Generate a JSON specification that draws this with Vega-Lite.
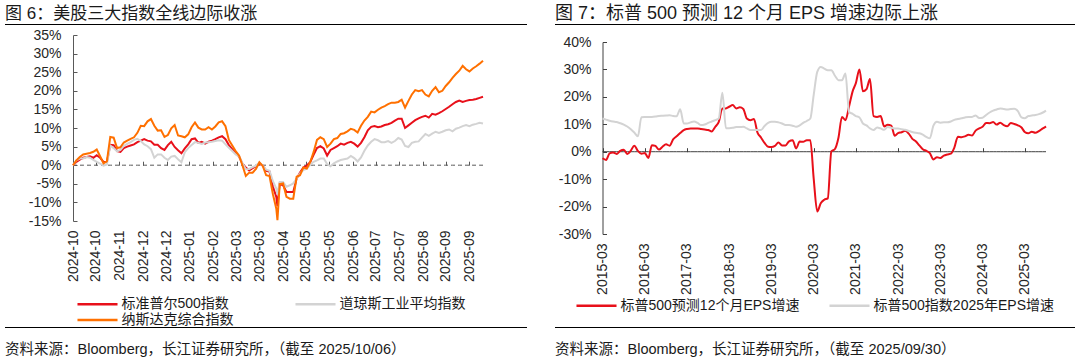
{
  "$schema": "https://vega.github.io/schema/vega-lite/v6.json",
  "padding": {"left": 5, "top": 5, "right": 5, "bottom": 0},
  "background": "white",
  "config": {
    "font": "Liberation Sans, Noto Sans CJK SC",
    "view": {"stroke": null},
    "title": {"font": "Liberation Sans, Noto Sans CJK SC", "fontWeight": "normal", "color": "#1a1a1a"},
    "axis": {"labelFont": "Liberation Sans, Noto Sans CJK SC", "labelColor": "#262626", "grid": false, "labelFontSize": 14},
    "legend": {"labelFont": "Liberation Sans, Noto Sans CJK SC", "labelColor": "#1a1a1a", "labelFontSize": 14, "labelLimit": 0}
  },
  "resolve": {"scale": {"color": "independent"}, "legend": {"color": "independent"}},
  "datasets": {
    "idx": [
      {"d":"2024-10-08","标准普尔500指数":0,"道琼斯工业平均指数":0,"纳斯达克综合指数":0},
      {"d":"2024-10-11","标准普尔500指数":0.9,"道琼斯工业平均指数":1.3,"纳斯达克综合指数":1.3},
      {"d":"2024-10-14","标准普尔500指数":1.5,"道琼斯工业平均指数":1.8,"纳斯达克综合指数":2.2},
      {"d":"2024-10-17","标准普尔500指数":2.0,"道琼斯工业平均指数":1.8,"纳斯达克综合指数":2.9},
      {"d":"2024-10-20","标准普尔500指数":2.2,"道琼斯工业平均指数":2.2,"纳斯达克综合指数":3.1},
      {"d":"2024-10-23","标准普尔500指数":2.4,"道琼斯工业平均指数":2.0,"纳斯达克综合指数":3.3},
      {"d":"2024-10-26","标准普尔500指数":2.0,"道琼斯工业平均指数":1.4,"纳斯达克综合指数":3.6},
      {"d":"2024-10-29","标准普尔500指数":2.7,"道琼斯工业平均指数":0.9,"纳斯达克综合指数":4.2},
      {"d":"2024-11-01","标准普尔500指数":2.0,"道琼斯工业平均指数":0.4,"纳斯达克综合指数":2.4},
      {"d":"2024-11-04","标准普尔500指数":0.9,"道琼斯工业平均指数":-0.1,"纳斯达克综合指数":0.5},
      {"d":"2024-11-07","标准普尔500指数":0.8,"道琼斯工业平均指数":0.2,"纳斯达克综合指数":1.0},
      {"d":"2024-11-10","标准普尔500指数":5.5,"道琼斯工业平均指数":5.3,"纳斯达克综合指数":7.6},
      {"d":"2024-11-13","标准普尔500指数":5.4,"道琼斯工业平均指数":4.6,"纳斯达克综合指数":7.4},
      {"d":"2024-11-16","标准普尔500指数":3.8,"道琼斯工业平均指数":3.7,"纳斯达克综合指数":4.6},
      {"d":"2024-11-19","标准普尔500指数":3.6,"道琼斯工业平均指数":4.1,"纳斯达克综合指数":4.8},
      {"d":"2024-11-22","标准普尔500指数":4.6,"道琼斯工业平均指数":5.2,"纳斯达克综合指数":6.1},
      {"d":"2024-11-25","标准普尔500指数":5.0,"道琼斯工业平均指数":5.7,"纳斯达克综合指数":6.6},
      {"d":"2024-11-28","标准普尔500指数":5.3,"道琼斯工业平均指数":6.2,"纳斯达克综合指数":7.1},
      {"d":"2024-12-01","标准普尔500指数":5.6,"道琼斯工业平均指数":6.8,"纳斯达克综合指数":7.5},
      {"d":"2024-12-04","标准普尔500指数":6.2,"道琼斯工业平均指数":7.1,"纳斯达克综合指数":8.7},
      {"d":"2024-12-07","标准普尔500指数":6.6,"道琼斯工业平均指数":6.5,"纳斯达克综合指数":10.6},
      {"d":"2024-12-10","标准普尔500指数":7.0,"道琼斯工业平均指数":5.6,"纳斯达克综合指数":10.5},
      {"d":"2024-12-13","标准普尔500指数":6.6,"道琼斯工业平均指数":5.1,"纳斯达克综合指数":11.8},
      {"d":"2024-12-16","标准普尔500指数":6.4,"道琼斯工业平均指数":4.3,"纳斯达克综合指数":12.4},
      {"d":"2024-12-19","标准普尔500指数":5.5,"道琼斯工业平均指数":2.0,"纳斯达克综合指数":10.6},
      {"d":"2024-12-22","标准普尔500指数":5.5,"道琼斯工业平均指数":2.9,"纳斯达克综合指数":9.3},
      {"d":"2024-12-25","标准普尔500指数":4.6,"道琼斯工业平均指数":2.9,"纳斯达克综合指数":9.4},
      {"d":"2024-12-28","标准普尔500指数":4.1,"道琼斯工业平均指数":2.0,"纳斯达克综合指数":7.6},
      {"d":"2024-12-31","标准普尔500指数":5.4,"道琼斯工业平均指数":1.4,"纳斯达克综合指数":8.1},
      {"d":"2025-01-03","标准普尔500指数":6.3,"道琼斯工业平均指数":2.3,"纳斯达克综合指数":9.9},
      {"d":"2025-01-06","标准普尔500指数":4.9,"道琼斯工业平均指数":2.5,"纳斯达克综合指数":10.8},
      {"d":"2025-01-09","标准普尔500指数":4.0,"道琼斯工业平均指数":1.6,"纳斯达克综合指数":8.0},
      {"d":"2025-01-12","标准普尔500指数":3.2,"道琼斯工业平均指数":0.8,"纳斯达克综合指数":7.8},
      {"d":"2025-01-15","标准普尔500指数":4.5,"道琼斯工业平均指数":3.5,"纳斯达克综合指数":7.5},
      {"d":"2025-01-18","标准普尔500指数":5.6,"道琼斯工业平均指数":4.6,"纳斯达克综合指数":8.3},
      {"d":"2025-01-21","标准普尔500指数":7.0,"道琼斯工业平均指数":5.4,"纳斯达克综合指数":10.2},
      {"d":"2025-01-24","标准普尔500指数":7.2,"道琼斯工业平均指数":6.2,"纳斯达克综合指数":11.5},
      {"d":"2025-01-27","标准普尔500指数":6.0,"道琼斯工业平均指数":6.0,"纳斯达克综合指数":10.1},
      {"d":"2025-01-30","标准普尔500指数":6.3,"道琼斯工业平均指数":5.7,"纳斯达克综合指数":9.6},
      {"d":"2025-02-02","标准普尔500指数":5.8,"道琼斯工业平均指数":6.1,"纳斯达克综合指数":9.6},
      {"d":"2025-02-05","标准普尔500指数":6.3,"道琼斯工业平均指数":6.2,"纳斯达克综合指数":10.2},
      {"d":"2025-02-08","标准普尔500指数":6.6,"道琼斯工业平均指数":6.3,"纳斯达克综合指数":9.6},
      {"d":"2025-02-11","标准普尔500指数":7.0,"道琼斯工业平均指数":6.5,"纳斯达克综合指数":10.4},
      {"d":"2025-02-14","标准普尔500指数":7.5,"道琼斯工业平均指数":6.7,"纳斯达克综合指数":11.5},
      {"d":"2025-02-17","标准普尔500指数":7.8,"道琼斯工业平均指数":6.6,"纳斯达克综合指数":11.8},
      {"d":"2025-02-20","标准普尔500指数":7.0,"道琼斯工业平均指数":5.6,"纳斯达克综合指数":10.5},
      {"d":"2025-02-23","标准普尔500指数":5.4,"道琼斯工业平均指数":4.7,"纳斯达克综合指数":6.8},
      {"d":"2025-02-26","标准普尔500指数":4.3,"道琼斯工业平均指数":3.8,"纳斯达克综合指数":5.3},
      {"d":"2025-03-01","标准普尔500指数":3.4,"道琼斯工业平均指数":2.9,"纳斯达克综合指数":3.8},
      {"d":"2025-03-04","标准普尔500指数":2.3,"道琼斯工业平均指数":2.4,"纳斯达克综合指数":2.6},
      {"d":"2025-03-07","标准普尔500指数":0.4,"道琼斯工业平均指数":0.6,"纳斯达克综合指数":0.0},
      {"d":"2025-03-10","标准普尔500指数":-0.6,"道琼斯工业平均指数":-1.1,"纳斯达克综合指数":-2.9},
      {"d":"2025-03-13","标准普尔500指数":-1.4,"道琼斯工业平均指数":-1.0,"纳斯达克综合指数":-2.0},
      {"d":"2025-03-16","标准普尔500指数":-0.8,"道琼斯工业平均指数":-0.5,"纳斯达克综合指数":-2.0},
      {"d":"2025-03-19","标准普尔500指数":-0.3,"道琼斯工业平均指数":-0.1,"纳斯达克综合指数":-1.0},
      {"d":"2025-03-22","标准普尔500指数":0.4,"道琼斯工业平均指数":0.7,"纳斯达克综合指数":0.8},
      {"d":"2025-03-25","标准普尔500指数":-0.1,"道琼斯工业平均指数":-0.1,"纳斯达克综合指数":-0.2},
      {"d":"2025-03-28","标准普尔500指数":-1.5,"道琼斯工业平均指数":-1.2,"纳斯达克综合指数":-2.7},
      {"d":"2025-03-31","标准普尔500指数":-1.7,"道琼斯工业平均指数":-1.5,"纳斯达克综合指数":-2.9},
      {"d":"2025-04-03","标准普尔500指数":-5.8,"道琼斯工业平均指数":-4.3,"纳斯达克综合指数":-7.8},
      {"d":"2025-04-06","标准普尔500指数":-8.5,"道琼斯工业平均指数":-6.3,"纳斯达克综合指数":-11.7},
      {"d":"2025-04-07","标准普尔500指数":-11.0,"道琼斯工业平均指数":-7.8,"纳斯达克综合指数":-14.8},
      {"d":"2025-04-09","标准普尔500指数":-5.0,"道琼斯工业平均指数":-4.5,"纳斯达克综合指数":-5.1},
      {"d":"2025-04-12","标准普尔500指数":-5.4,"道琼斯工业平均指数":-4.5,"纳斯达克综合指数":-4.9},
      {"d":"2025-04-15","标准普尔500指数":-7.2,"道琼斯工业平均指数":-5.8,"纳斯达克综合指数":-8.5},
      {"d":"2025-04-18","标准普尔500指数":-7.2,"道琼斯工业平均指数":-5.4,"纳斯达克综合指数":-9.0},
      {"d":"2025-04-21","标准普尔500指数":-7.2,"道琼斯工业平均指数":-4.9,"纳斯达克综合指数":-9.0},
      {"d":"2025-04-24","标准普尔500指数":-3.6,"道琼斯工业平均指数":-3.6,"纳斯达克综合指数":-3.1},
      {"d":"2025-04-27","标准普尔500指数":-2.0,"道琼斯工业平均指数":-2.2,"纳斯达克综合指数":-2.7},
      {"d":"2025-04-30","标准普尔500指数":-0.6,"道琼斯工业平均指数":-1.3,"纳斯达克综合指数":-0.6},
      {"d":"2025-05-03","标准普尔500指数":-0.1,"道琼斯工业平均指数":-0.9,"纳斯达克综合指数":-0.9},
      {"d":"2025-05-06","标准普尔500指数":0.8,"道琼斯工业平均指数":0.1,"纳斯达克综合指数":0.8},
      {"d":"2025-05-09","标准普尔500指数":2.8,"道琼斯工业平均指数":0.9,"纳斯达克综合指数":3.5},
      {"d":"2025-05-12","标准普尔500指数":4.6,"道琼斯工业平均指数":1.3,"纳斯达克综合指数":6.8},
      {"d":"2025-05-15","标准普尔500指数":5.1,"道琼斯工业平均指数":1.8,"纳斯达克综合指数":7.5},
      {"d":"2025-05-18","标准普尔500指数":4.5,"道琼斯工业平均指数":1.8,"纳斯达克综合指数":7.0},
      {"d":"2025-05-21","标准普尔500指数":2.6,"道琼斯工业平均指数":0.3,"纳斯达克综合指数":4.9},
      {"d":"2025-05-24","标准普尔500指数":4.1,"道琼斯工业平均指数":-0.3,"纳斯达克综合指数":5.8},
      {"d":"2025-05-27","标准普尔500指数":4.6,"道琼斯工业平均指数":0.5,"纳斯达克综合指数":7.0},
      {"d":"2025-05-30","标准普尔500指数":5.1,"道琼斯工业平均指数":1.0,"纳斯达克综合指数":7.3},
      {"d":"2025-06-02","标准普尔500指数":5.8,"道琼斯工业平均指数":1.4,"纳斯达克综合指数":8.4},
      {"d":"2025-06-05","标准普尔500指数":5.5,"道琼斯工业平均指数":1.6,"纳斯达克综合指数":8.6},
      {"d":"2025-06-08","标准普尔500指数":6.0,"道琼斯工业平均指数":1.8,"纳斯达克综合指数":9.1},
      {"d":"2025-06-11","标准普尔500指数":6.3,"道琼斯工业平均指数":2.5,"纳斯达克综合指数":9.8},
      {"d":"2025-06-14","标准普尔500指数":5.8,"道琼斯工业平均指数":1.9,"纳斯达克综合指数":9.5},
      {"d":"2025-06-17","标准普尔500指数":5.0,"道琼斯工业平均指数":1.0,"纳斯达克综合指数":8.8},
      {"d":"2025-06-20","标准普尔500指数":6.0,"道琼斯工业平均指数":2.1,"纳斯达克综合指数":10.6},
      {"d":"2025-06-23","标准普尔500指数":7.5,"道琼斯工业平均指数":3.9,"纳斯达克综合指数":12.0},
      {"d":"2025-06-26","标准普尔500指数":9.4,"道琼斯工业平均指数":5.3,"纳斯达克综合指数":13.0},
      {"d":"2025-06-29","标准普尔500指数":10.3,"道琼斯工业平均指数":6.3,"纳斯达克综合指数":14.4},
      {"d":"2025-07-02","标准普尔500指数":10.5,"道琼斯工业平均指数":7.0,"纳斯达克综合指数":14.2},
      {"d":"2025-07-05","标准普尔500指数":10.2,"道琼斯工业平均指数":6.7,"纳斯达克综合指数":14.9},
      {"d":"2025-07-08","标准普尔500指数":10.4,"道琼斯工业平均指数":6.2,"纳斯达克综合指数":15.5},
      {"d":"2025-07-11","标准普尔500指数":10.8,"道琼斯工业平均指数":6.2,"纳斯达克综合指数":15.9},
      {"d":"2025-07-14","标准普尔500指数":11.0,"道琼斯工业平均指数":6.5,"纳斯达克综合指数":16.4},
      {"d":"2025-07-17","标准普尔500指数":11.4,"道琼斯工业平均指数":6.0,"纳斯达克综合指数":16.8},
      {"d":"2025-07-20","标准普尔500指数":12.0,"道琼斯工业平均指数":6.5,"纳斯达克综合指数":16.8},
      {"d":"2025-07-23","标准普尔500指数":12.5,"道琼斯工业平均指数":7.3,"纳斯达克综合指数":17.0},
      {"d":"2025-07-26","标准普尔500指数":12.5,"道琼斯工业平均指数":6.9,"纳斯达克综合指数":17.6},
      {"d":"2025-07-29","标准普尔500指数":10.0,"道琼斯工业平均指数":5.2,"纳斯达克综合指数":15.5},
      {"d":"2025-08-01","标准普尔500指数":10.7,"道琼斯工业平均指数":4.9,"纳斯达克综合指数":17.3},
      {"d":"2025-08-04","标准普尔500指数":11.4,"道琼斯工业平均指数":6.0,"纳斯达克综合指数":19.0},
      {"d":"2025-08-07","标准普尔500指数":12.1,"道琼斯工业平均指数":6.3,"纳斯达克综合指数":20.2},
      {"d":"2025-08-10","标准普尔500指数":12.6,"道琼斯工业平均指数":6.4,"纳斯达克综合指数":19.9},
      {"d":"2025-08-13","标准普尔500指数":13.0,"道琼斯工业平均指数":7.4,"纳斯达克综合指数":20.2},
      {"d":"2025-08-16","标准普尔500指数":13.3,"道琼斯工业平均指数":8.4,"纳斯达克综合指数":19.0},
      {"d":"2025-08-19","标准普尔500指数":12.8,"道琼斯工业平均指数":7.9,"纳斯达克综合指数":18.5},
      {"d":"2025-08-22","标准普尔500指数":13.8,"道琼斯工业平均指数":8.5,"纳斯达克综合指数":20.0},
      {"d":"2025-08-25","标准普尔500指数":13.6,"道琼斯工业平均指数":9.0,"纳斯达克综合指数":21.0},
      {"d":"2025-08-28","标准普尔500指数":14.0,"道琼斯工业平均指数":8.7,"纳斯达克综合指数":19.6},
      {"d":"2025-08-31","标准普尔500指数":14.5,"道琼斯工业平均指数":9.0,"纳斯达克综合指数":20.0},
      {"d":"2025-09-03","标准普尔500指数":15.1,"道琼斯工业平均指数":9.4,"纳斯达克综合指数":21.3},
      {"d":"2025-09-06","标准普尔500指数":15.7,"道琼斯工业平均指数":9.6,"纳斯达克综合指数":22.3},
      {"d":"2025-09-09","标准普尔500指数":16.4,"道琼斯工业平均指数":9.1,"纳斯达克综合指数":23.5},
      {"d":"2025-09-12","标准普尔500指数":17.0,"道琼斯工业平均指数":9.8,"纳斯达克综合指数":24.5},
      {"d":"2025-09-15","标准普尔500指数":17.4,"道琼斯工业平均指数":10.1,"纳斯达克综合指数":25.4},
      {"d":"2025-09-18","标准普尔500指数":17.0,"道琼斯工业平均指数":10.5,"纳斯达克综合指数":26.7},
      {"d":"2025-09-21","标准普尔500指数":17.3,"道琼斯工业平均指数":10.8,"纳斯达克综合指数":25.8},
      {"d":"2025-09-24","标准普尔500指数":17.5,"道琼斯工业平均指数":10.5,"纳斯达克综合指数":25.2},
      {"d":"2025-09-27","标准普尔500指数":17.6,"道琼斯工业平均指数":10.9,"纳斯达克综合指数":26.0},
      {"d":"2025-09-30","标准普尔500指数":17.8,"道琼斯工业平均指数":11.1,"纳斯达克综合指数":26.6},
      {"d":"2025-10-03","标准普尔500指数":18.1,"道琼斯工业平均指数":11.4,"纳斯达克综合指数":27.3},
      {"d":"2025-10-06","标准普尔500指数":18.4,"道琼斯工业平均指数":11.2,"纳斯达克综合指数":28.1}
    ],
    "eps": [
      {"d":"2015-03-01","标普500预测12个月EPS增速":-2.4,"标普500指数2025年EPS增速":12.1},
      {"d":"2015-04-01","标普500预测12个月EPS增速":-3.0,"标普500指数2025年EPS增速":11.7},
      {"d":"2015-05-01","标普500预测12个月EPS增速":-0.6,"标普500指数2025年EPS增速":11.3},
      {"d":"2015-06-01","标普500预测12个月EPS增速":-0.3,"标普500指数2025年EPS增速":11.0},
      {"d":"2015-07-01","标普500预测12个月EPS增速":-0.8,"标普500指数2025年EPS增速":10.8},
      {"d":"2015-08-01","标普500预测12个月EPS增速":0.3,"标普500指数2025年EPS增速":10.4},
      {"d":"2015-09-01","标普500预测12个月EPS增速":0.7,"标普500指数2025年EPS增速":9.9},
      {"d":"2015-10-01","标普500预测12个月EPS增速":-0.8,"标普500指数2025年EPS增速":9.2},
      {"d":"2015-11-01","标普500预测12个月EPS增速":0.4,"标普500指数2025年EPS增速":8.2},
      {"d":"2015-12-01","标普500预测12个月EPS增速":2.2,"标普500指数2025年EPS增速":7.0},
      {"d":"2016-01-01","标普500预测12个月EPS增速":0.3,"标普500指数2025年EPS增速":5.6},
      {"d":"2016-02-01","标普500预测12个月EPS增速":-0.7,"标普500指数2025年EPS增速":12.6},
      {"d":"2016-03-01","标普500预测12个月EPS增速":-0.5,"标普500指数2025年EPS增速":12.7},
      {"d":"2016-04-01","标普500预测12个月EPS增速":-2.3,"标普500指数2025年EPS增速":12.7},
      {"d":"2016-05-01","标普500预测12个月EPS增速":2.4,"标普500指数2025年EPS增速":12.7},
      {"d":"2016-06-01","标普500预测12个月EPS增速":2.1,"标普500指数2025年EPS增速":12.8},
      {"d":"2016-07-01","标普500预测12个月EPS增速":0.8,"标普500指数2025年EPS增速":13.0},
      {"d":"2016-08-01","标普500预测12个月EPS增速":1.8,"标普500指数2025年EPS增速":13.1},
      {"d":"2016-09-01","标普500预测12个月EPS增速":2.7,"标普500指数2025年EPS增速":13.2},
      {"d":"2016-10-01","标普500预测12个月EPS增速":2.2,"标普500指数2025年EPS增速":13.3},
      {"d":"2016-11-01","标普500预测12个月EPS增速":4.5,"标普500指数2025年EPS增速":13.0},
      {"d":"2016-12-01","标普500预测12个月EPS增速":5.6,"标普500指数2025年EPS增速":12.9},
      {"d":"2017-01-01","标普500预测12个月EPS增速":6.8,"标普500指数2025年EPS增速":15.5},
      {"d":"2017-02-01","标普500预测12个月EPS增速":7.9,"标普500指数2025年EPS增速":10.3},
      {"d":"2017-03-01","标普500预测12个月EPS增速":8.3,"标普500指数2025年EPS增速":10.3},
      {"d":"2017-04-01","标普500预测12个月EPS增速":8.5,"标普500指数2025年EPS增速":10.7},
      {"d":"2017-05-01","标普500预测12个月EPS增速":8.5,"标普500指数2025年EPS增速":11.0},
      {"d":"2017-06-01","标普500预测12个月EPS增速":8.5,"标普500指数2025年EPS增速":10.5},
      {"d":"2017-07-01","标普500预测12个月EPS增速":8.3,"标普500指数2025年EPS增速":9.7},
      {"d":"2017-08-01","标普500预测12个月EPS增速":8.1,"标普500指数2025年EPS增速":9.9},
      {"d":"2017-09-01","标普500预测12个月EPS增速":7.9,"标普500指数2025年EPS增速":10.5},
      {"d":"2017-10-01","标普500预测12个月EPS增速":7.4,"标普500指数2025年EPS增速":11.0},
      {"d":"2017-11-01","标普500预测12个月EPS增速":9.1,"标普500指数2025年EPS增速":11.5},
      {"d":"2017-12-01","标普500预测12个月EPS增速":10.9,"标普500指数2025年EPS增速":12.1},
      {"d":"2018-01-01","标普500预测12个月EPS增速":15.8,"标普500指数2025年EPS增速":21.5},
      {"d":"2018-02-01","标普500预测12个月EPS增速":15.8,"标普500指数2025年EPS增速":8.6},
      {"d":"2018-03-01","标普500预测12个月EPS增速":16.4,"标普500指数2025年EPS增速":8.6},
      {"d":"2018-04-01","标普500预测12个月EPS增速":17.0,"标普500指数2025年EPS增速":8.7},
      {"d":"2018-05-01","标普500预测12个月EPS增速":15.8,"标普500指数2025年EPS增速":9.0},
      {"d":"2018-06-01","标普500预测12个月EPS增速":16.2,"标普500指数2025年EPS增速":9.0},
      {"d":"2018-07-01","标普500预测12个月EPS增速":15.6,"标普500指数2025年EPS增速":9.1},
      {"d":"2018-08-01","标普500预测12个月EPS增速":12.1,"标普500指数2025年EPS增速":8.5},
      {"d":"2018-09-01","标普500预测12个月EPS增速":11.5,"标普500指数2025年EPS增速":7.9},
      {"d":"2018-10-01","标普500预测12个月EPS增速":11.9,"标普500指数2025年EPS增速":7.9},
      {"d":"2018-11-01","标普500预测12个月EPS增速":7.0,"标普500指数2025年EPS增速":7.9},
      {"d":"2018-12-01","标普500预测12个月EPS增速":5.2,"标普500指数2025年EPS增速":7.9},
      {"d":"2019-01-01","标普500预测12个月EPS增速":3.2,"标普500指数2025年EPS增速":9.4},
      {"d":"2019-02-01","标普500预测12个月EPS增速":1.8,"标普500指数2025年EPS增速":10.5},
      {"d":"2019-03-01","标普500预测12个月EPS增速":1.7,"标普500指数2025年EPS增速":10.9},
      {"d":"2019-04-01","标普500预测12个月EPS增速":2.1,"标普500指数2025年EPS增速":10.9},
      {"d":"2019-05-01","标普500预测12个月EPS增速":3.4,"标普500指数2025年EPS增速":10.7},
      {"d":"2019-06-01","标普500预测12个月EPS增速":2.3,"标普500指数2025年EPS增速":10.3},
      {"d":"2019-07-01","标普500预测12个月EPS增速":2.3,"标普500指数2025年EPS增速":9.7},
      {"d":"2019-08-01","标普500预测12个月EPS增速":3.8,"标普500指数2025年EPS增速":9.7},
      {"d":"2019-09-01","标普500预测12个月EPS增速":4.2,"标普500指数2025年EPS增速":9.5},
      {"d":"2019-10-01","标普500预测12个月EPS增速":1.2,"标普500指数2025年EPS增速":9.1},
      {"d":"2019-11-01","标普500预测12个月EPS增速":3.7,"标普500指数2025年EPS增速":9.6},
      {"d":"2019-12-01","标普500预测12个月EPS增速":3.6,"标普500指数2025年EPS增速":10.5},
      {"d":"2020-01-01","标普500预测12个月EPS增速":4.2,"标普500指数2025年EPS增速":11.2},
      {"d":"2020-02-01","标普500预测12个月EPS增速":4.2,"标普500指数2025年EPS增速":12.1},
      {"d":"2020-03-01","标普500预测12个月EPS增速":-9.7,"标普500指数2025年EPS增速":20.6},
      {"d":"2020-04-01","标普500预测12个月EPS增速":-21.8,"标普500指数2025年EPS增速":29.1},
      {"d":"2020-05-01","标普500预测12个月EPS增速":-18.8,"标普500指数2025年EPS增速":30.9},
      {"d":"2020-06-01","标普500预测12个月EPS增速":-17.5,"标普500指数2025年EPS增速":30.3},
      {"d":"2020-07-01","标普500预测12个月EPS增速":-17.0,"标普500指数2025年EPS增速":29.7},
      {"d":"2020-08-01","标普500预测12个月EPS增速":0.1,"标普500指数2025年EPS增速":29.7},
      {"d":"2020-09-01","标普500预测12个月EPS增速":1.0,"标普500指数2025年EPS增速":27.7},
      {"d":"2020-10-01","标普500预测12个月EPS增速":5.0,"标普500指数2025年EPS增速":26.1},
      {"d":"2020-11-01","标普500预测12个月EPS增速":12.7,"标普500指数2025年EPS增速":26.1},
      {"d":"2020-12-01","标普500预测12个月EPS增速":11.5,"标普500指数2025年EPS增速":28.5},
      {"d":"2021-01-01","标普500预测12个月EPS增速":16.5,"标普500指数2025年EPS增速":14.5},
      {"d":"2021-02-01","标普500预测12个月EPS增速":22.0,"标普500指数2025年EPS增速":13.8},
      {"d":"2021-03-01","标普500预测12个月EPS增速":25.0,"标普500指数2025年EPS增速":13.0},
      {"d":"2021-04-01","标普500预测12个月EPS增速":30.0,"标普500指数2025年EPS增速":12.5},
      {"d":"2021-05-01","标普500预测12个月EPS增速":22.0,"标普500指数2025年EPS增速":10.3},
      {"d":"2021-06-01","标普500预测12个月EPS增速":22.8,"标普500指数2025年EPS增速":9.6},
      {"d":"2021-07-01","标普500预测12个月EPS增速":26.5,"标普500指数2025年EPS增速":8.5},
      {"d":"2021-08-01","标普500预测12个月EPS增速":13.0,"标普500指数2025年EPS增速":7.9},
      {"d":"2021-09-01","标普500预测12个月EPS增速":12.7,"标普500指数2025年EPS增速":8.8},
      {"d":"2021-10-01","标普500预测12个月EPS增速":13.0,"标普500指数2025年EPS增速":8.5},
      {"d":"2021-11-01","标普500预测12个月EPS增速":9.2,"标普500指数2025年EPS增速":8.0},
      {"d":"2021-12-01","标普500预测12个月EPS增速":9.8,"标普500指数2025年EPS增速":9.0},
      {"d":"2022-01-01","标普500预测12个月EPS增速":9.5,"标普500指数2025年EPS增速":8.7},
      {"d":"2022-02-01","标普500预测12个月EPS增速":5.8,"标普500指数2025年EPS增速":8.5},
      {"d":"2022-03-01","标普500预测12个月EPS增速":6.8,"标普500指数2025年EPS增速":8.5},
      {"d":"2022-04-01","标普500预测12个月EPS增速":7.1,"标普500指数2025年EPS增速":8.2},
      {"d":"2022-05-01","标普500预测12个月EPS增速":7.6,"标普500指数2025年EPS增速":8.0},
      {"d":"2022-06-01","标普500预测12个月EPS增速":6.6,"标普500指数2025年EPS增速":7.6},
      {"d":"2022-07-01","标普500预测12个月EPS增速":4.8,"标普500指数2025年EPS增速":7.2},
      {"d":"2022-08-01","标普500预测12个月EPS增速":3.8,"标普500指数2025年EPS增速":6.9},
      {"d":"2022-09-01","标普500预测12个月EPS增速":2.3,"标普500指数2025年EPS增速":6.7},
      {"d":"2022-10-01","标普500预测12个月EPS增速":0.9,"标普500指数2025年EPS增速":6.2},
      {"d":"2022-11-01","标普500预测12个月EPS增速":0.3,"标普500指数2025年EPS增速":5.4},
      {"d":"2022-12-01","标普500预测12个月EPS增速":-0.5,"标普500指数2025年EPS增速":4.9},
      {"d":"2023-01-01","标普500预测12个月EPS增速":-2.8,"标普500指数2025年EPS增速":9.5},
      {"d":"2023-02-01","标普500预测12个月EPS增速":-2.0,"标普500指数2025年EPS增速":10.9},
      {"d":"2023-03-01","标普500预测12个月EPS增速":-2.3,"标普500指数2025年EPS增速":10.6},
      {"d":"2023-04-01","标普500预测12个月EPS增速":-1.4,"标普500指数2025年EPS增速":10.7},
      {"d":"2023-05-01","标普500预测12个月EPS增速":-1.0,"标普500指数2025年EPS增速":10.7},
      {"d":"2023-06-01","标普500预测12个月EPS增速":-0.7,"标普500指数2025年EPS增速":11.0},
      {"d":"2023-07-01","标普500预测12个月EPS增速":1.5,"标普500指数2025年EPS增速":11.6},
      {"d":"2023-08-01","标普500预测12个月EPS增速":5.5,"标普500指数2025年EPS增速":11.9},
      {"d":"2023-09-01","标普500预测12个月EPS增速":5.3,"标普500指数2025年EPS增速":12.2},
      {"d":"2023-10-01","标普500预测12个月EPS增速":5.6,"标普500指数2025年EPS增速":12.5},
      {"d":"2023-11-01","标普500预测12个月EPS增速":6.2,"标普500指数2025年EPS增速":12.7},
      {"d":"2023-12-01","标普500预测12个月EPS增速":5.9,"标普500指数2025年EPS增速":12.7},
      {"d":"2024-01-01","标普500预测12个月EPS增速":7.7,"标普500指数2025年EPS增速":13.2},
      {"d":"2024-02-01","标普500预测12个月EPS增速":8.5,"标普500指数2025年EPS增速":12.3},
      {"d":"2024-03-01","标普500预测12个月EPS增速":9.1,"标普500指数2025年EPS增速":12.4},
      {"d":"2024-04-01","标普500预测12个月EPS增速":10.5,"标普500指数2025年EPS增速":13.4},
      {"d":"2024-05-01","标普500预测12个月EPS增速":10.4,"标普500指数2025年EPS增速":14.3},
      {"d":"2024-06-01","标普500预测12个月EPS增速":10.8,"标普500指数2025年EPS增速":15.0},
      {"d":"2024-07-01","标普500预测12个月EPS增速":9.9,"标普500指数2025年EPS增速":15.4},
      {"d":"2024-08-01","标普500预测12个月EPS增速":10.6,"标普500指数2025年EPS增速":15.8},
      {"d":"2024-09-01","标普500预测12个月EPS增速":9.7,"标普500指数2025年EPS增速":15.6},
      {"d":"2024-10-01","标普500预测12个月EPS增速":9.3,"标普500指数2025年EPS增速":15.4},
      {"d":"2024-11-01","标普500预测12个月EPS增速":10.5,"标普500指数2025年EPS增速":15.6},
      {"d":"2024-12-01","标普500预测12个月EPS增速":10.1,"标普500指数2025年EPS增速":15.7},
      {"d":"2025-01-01","标普500预测12个月EPS增速":9.6,"标普500指数2025年EPS增速":14.8},
      {"d":"2025-02-01","标普500预测12个月EPS增速":8.8,"标普500指数2025年EPS增速":12.5},
      {"d":"2025-03-01","标普500预测12个月EPS增速":7.2,"标普500指数2025年EPS增速":12.2},
      {"d":"2025-04-01","标普500预测12个月EPS增速":6.7,"标普500指数2025年EPS增速":13.0},
      {"d":"2025-05-01","标普500预测12个月EPS增速":7.3,"标普500指数2025年EPS增速":13.2},
      {"d":"2025-06-01","标普500预测12个月EPS增速":6.9,"标普500指数2025年EPS增速":13.4},
      {"d":"2025-07-01","标普500预测12个月EPS增速":7.5,"标普500指数2025年EPS增速":13.7},
      {"d":"2025-08-01","标普500预测12个月EPS增速":8.4,"标普500指数2025年EPS增速":14.2},
      {"d":"2025-09-01","标普500预测12个月EPS增速":9.2,"标普500指数2025年EPS增速":15.0}
    ]
  },
  "hconcat": [
    {
      "vconcat": [
        {
          "width": 522, "height": 1,
          "view": {"fill": "#000000", "stroke": null},
          "title": {"text": "图 6：美股三大指数全线边际收涨", "anchor": "start", "fontSize": 17, "offset": 1},
          "mark": {"type": "rule", "opacity": 0},
          "encoding": {}
        },
        {
          "width": 522, "height": 186,
          "data": {"name": "idx"},
          "transform": [{"fold": ["标准普尔500指数", "道琼斯工业平均指数", "纳斯达克综合指数"], "as": ["s", "v"]}],
          "layer": [
            {
              "mark": {"type": "line", "color": "#595959", "strokeWidth": 1, "strokeDash": [4, 3]},
              "encoding": {
                "x": {"field": "d", "type": "temporal",
                  "scale": {"type": "utc", "range": [68, 478], "domain": [{"year": 2024, "month": 10, "date": 8, "utc": true}, {"year": 2025, "month": 10, "date": 6, "utc": true}]},
                  "axis": {"orient": "top", "offset": -130.2, "labels": false, "domain": false, "ticks": true, "tickSize": 4, "tickColor": "#595959", "title": null, "grid": false, "minExtent": 0,
                    "values": [
                      {"year": 2024, "month": 10, "date": 8, "utc": true}, {"year": 2024, "month": 10, "date": 28, "utc": true}, {"year": 2024, "month": 11, "date": 18, "utc": true},
                      {"year": 2024, "month": 12, "date": 9, "utc": true}, {"year": 2024, "month": 12, "date": 30, "utc": true}, {"year": 2025, "month": 1, "date": 19, "utc": true},
                      {"year": 2025, "month": 2, "date": 9, "utc": true}, {"year": 2025, "month": 3, "date": 2, "utc": true}, {"year": 2025, "month": 3, "date": 22, "utc": true},
                      {"year": 2025, "month": 4, "date": 12, "utc": true}, {"year": 2025, "month": 5, "date": 2, "utc": true}, {"year": 2025, "month": 5, "date": 23, "utc": true},
                      {"year": 2025, "month": 6, "date": 13, "utc": true}, {"year": 2025, "month": 7, "date": 3, "utc": true}, {"year": 2025, "month": 7, "date": 24, "utc": true},
                      {"year": 2025, "month": 8, "date": 14, "utc": true}, {"year": 2025, "month": 9, "date": 3, "utc": true}, {"year": 2025, "month": 9, "date": 24, "utc": true}
                    ]}},
                "y": {"datum": 0, "type": "quantitative",
                  "axis": {"values": [-15, -10, -5, 0, 5, 10, 15, 20, 25, 30, 35], "labelExpr": "datum.value + '%'", "title": null, "grid": false, "offset": -68,
                    "domainColor": "#595959", "tickColor": "#595959", "tickSize": -4, "labelPadding": 16, "minExtent": 0, "maxExtent": 0}}
              }
            },
            {
              "mark": {"type": "line", "strokeWidth": 2},
              "encoding": {
                "x": {"field": "d", "type": "temporal",
                  "axis": {"orient": "bottom", "format": "%Y-%m", "labelAngle": -90, "labelPadding": 9, "ticks": false, "domain": false, "title": null, "grid": false, "minExtent": 102.2, "maxExtent": 200,
                    "values": [
                      {"year": 2024, "month": 10, "date": 8, "utc": true}, {"year": 2024, "month": 10, "date": 28, "utc": true}, {"year": 2024, "month": 11, "date": 18, "utc": true},
                      {"year": 2024, "month": 12, "date": 9, "utc": true}, {"year": 2024, "month": 12, "date": 30, "utc": true}, {"year": 2025, "month": 1, "date": 19, "utc": true},
                      {"year": 2025, "month": 2, "date": 9, "utc": true}, {"year": 2025, "month": 3, "date": 2, "utc": true}, {"year": 2025, "month": 3, "date": 22, "utc": true},
                      {"year": 2025, "month": 4, "date": 12, "utc": true}, {"year": 2025, "month": 5, "date": 2, "utc": true}, {"year": 2025, "month": 5, "date": 23, "utc": true},
                      {"year": 2025, "month": 6, "date": 13, "utc": true}, {"year": 2025, "month": 7, "date": 3, "utc": true}, {"year": 2025, "month": 7, "date": 24, "utc": true},
                      {"year": 2025, "month": 8, "date": 14, "utc": true}, {"year": 2025, "month": 9, "date": 3, "utc": true}, {"year": 2025, "month": 9, "date": 24, "utc": true}
                    ]}},
                "y": {"field": "v", "type": "quantitative",
                  "scale": {"domain": [-15, 35], "nice": false, "zero": false},
                  "axis": {"values": [-15, -10, -5, 0, 5, 10, 15, 20, 25, 30, 35], "labelExpr": "datum.value + '%'", "title": null, "grid": false, "offset": -68,
                    "domainColor": "#595959", "tickColor": "#595959", "tickSize": -4, "labelPadding": 16, "minExtent": 0, "maxExtent": 0}},
                "color": {"field": "s", "type": "nominal",
                  "scale": {"domain": ["标准普尔500指数", "道琼斯工业平均指数", "纳斯达克综合指数"], "range": ["#E8101A", "#D3D3D3", "#FF7000"]},
                  "legend": {"orient": "none", "legendX": 84, "legendY": 271.6, "columns": 2, "direction": "horizontal", "title": null,
                    "symbolType": "M-2.86,0H2.86", "symbolSize": 196, "symbolStrokeWidth": 2.5, "labelOffset": 15.5, "columnPadding": 56, "rowPadding": -4.6, "padding": 0}}
              }
            }
          ],
          "resolve": {"axis": {"x": "independent"}}
        },
        {
          "width": 522, "height": 1,
          "view": {"fill": "#000000", "stroke": null},
          "title": {"text": "资料来源：Bloomberg，长江证券研究所，（截至 2025/10/06）", "orient": "bottom", "anchor": "start", "fontSize": 14.5, "offset": 15},
          "mark": {"type": "rule", "opacity": 0},
          "encoding": {}
        }
      ],
      "spacing": 3
    },
    {
      "vconcat": [
        {
          "width": 520, "height": 1,
          "view": {"fill": "#000000", "stroke": null},
          "title": {"text": "图 7：标普 500 预测 12 个月 EPS 增速边际上涨", "anchor": "start", "fontSize": 18, "offset": 1},
          "mark": {"type": "rule", "opacity": 0},
          "encoding": {}
        },
        {
          "width": 520, "height": 192,
          "data": {"name": "eps"},
          "transform": [{"fold": ["标普500预测12个月EPS增速", "标普500指数2025年EPS增速"], "as": ["s", "v"]}],
          "layer": [
            {
              "mark": {"type": "line", "color": "#404040", "strokeWidth": 1},
              "encoding": {
                "x": {"field": "d", "type": "temporal",
                  "scale": {"type": "utc", "range": [47.5, 491], "domain": [{"year": 2015, "month": 3, "date": 1, "utc": true}, {"year": 2025, "month": 9, "date": 1, "utc": true}]},
                  "axis": {"orient": "top", "offset": -109.7, "labels": false, "domain": false, "ticks": true, "tickSize": 4, "tickColor": "#404040", "title": null, "grid": false, "minExtent": 0,
                    "values": [
                      {"year": 2015, "month": 3, "date": 1, "utc": true}, {"year": 2016, "month": 3, "date": 1, "utc": true}, {"year": 2017, "month": 3, "date": 1, "utc": true},
                      {"year": 2018, "month": 3, "date": 1, "utc": true}, {"year": 2019, "month": 3, "date": 1, "utc": true}, {"year": 2020, "month": 3, "date": 1, "utc": true},
                      {"year": 2021, "month": 3, "date": 1, "utc": true}, {"year": 2022, "month": 3, "date": 1, "utc": true}, {"year": 2023, "month": 3, "date": 1, "utc": true},
                      {"year": 2024, "month": 3, "date": 1, "utc": true}, {"year": 2025, "month": 3, "date": 1, "utc": true}
                    ]}},
                "y": {"datum": 0, "type": "quantitative",
                  "axis": {"values": [-30, -20, -10, 0, 10, 20, 30, 40], "labelExpr": "datum.value + '%'", "title": null, "grid": false, "offset": -47.5,
                    "domainColor": "#404040", "tickColor": "#404040", "tickSize": -4, "labelPadding": 15.5, "minExtent": 0, "maxExtent": 0}}
              }
            },
            {
              "mark": {"type": "line", "strokeWidth": 2, "interpolate": "monotone"},
              "encoding": {
                "x": {"field": "d", "type": "temporal",
                  "axis": {"orient": "bottom", "format": "%Y-%m", "labelAngle": -90, "labelPadding": 9, "ticks": false, "domain": false, "title": null, "grid": false, "minExtent": 82.2, "maxExtent": 200,
                    "values": [
                      {"year": 2015, "month": 3, "date": 1, "utc": true}, {"year": 2016, "month": 3, "date": 1, "utc": true}, {"year": 2017, "month": 3, "date": 1, "utc": true},
                      {"year": 2018, "month": 3, "date": 1, "utc": true}, {"year": 2019, "month": 3, "date": 1, "utc": true}, {"year": 2020, "month": 3, "date": 1, "utc": true},
                      {"year": 2021, "month": 3, "date": 1, "utc": true}, {"year": 2022, "month": 3, "date": 1, "utc": true}, {"year": 2023, "month": 3, "date": 1, "utc": true},
                      {"year": 2024, "month": 3, "date": 1, "utc": true}, {"year": 2025, "month": 3, "date": 1, "utc": true}
                    ]}},
                "y": {"field": "v", "type": "quantitative",
                  "scale": {"domain": [-30, 40], "nice": false, "zero": false},
                  "axis": {"values": [-30, -20, -10, 0, 10, 20, 30, 40], "labelExpr": "datum.value + '%'", "title": null, "grid": false, "offset": -47.5,
                    "domainColor": "#404040", "tickColor": "#404040", "tickSize": -4, "labelPadding": 15.5, "minExtent": 0, "maxExtent": 0}},
                "color": {"field": "s", "type": "nominal",
                  "scale": {"domain": ["标普500预测12个月EPS增速", "标普500指数2025年EPS增速"], "range": ["#E8101A", "#D3D3D3"]},
                  "legend": {"orient": "none", "legendX": 33, "legendY": 273, "columns": 2, "direction": "horizontal", "title": null,
                    "symbolType": "M-2.86,0H2.86", "symbolSize": 196, "symbolStrokeWidth": 2.5, "labelOffset": 15.5, "columnPadding": 24, "rowPadding": 0, "padding": 0}}
              }
            }
          ],
          "resolve": {"axis": {"x": "independent"}}
        },
        {
          "width": 520, "height": 1,
          "view": {"fill": "#000000", "stroke": null},
          "title": {"text": "资料来源：Bloomberg，长江证券研究所，（截至 2025/09/30）", "orient": "bottom", "anchor": "start", "fontSize": 14.5, "offset": 15},
          "mark": {"type": "rule", "opacity": 0},
          "encoding": {}
        }
      ],
      "spacing": 10
    }
  ],
  "spacing": 28
}
